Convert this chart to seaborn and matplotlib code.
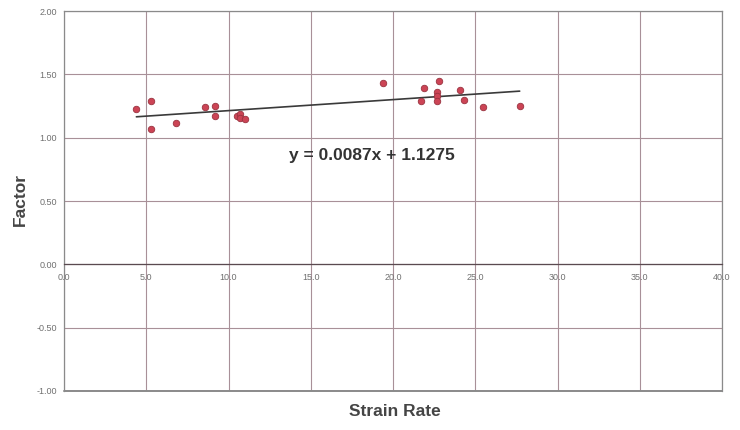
import matplotlib
matplotlib.use("Agg")
import matplotlib.pyplot as plt
import seaborn as sns
import numpy as np
import pandas as pd

sns.set_theme(style="white")
plt.rcParams['font.family'] = ['Liberation Sans', 'DejaVu Sans']

# data
strain_rate = [4.4, 5.3, 5.3, 6.8, 8.6, 9.2, 9.2, 10.5, 10.7, 10.7, 11.0,
               19.4, 21.9, 22.8, 22.7, 22.7, 21.7, 22.7, 24.1, 24.3, 25.5, 27.7]
factor = [1.23, 1.29, 1.07, 1.12, 1.24, 1.25, 1.17, 1.17, 1.19, 1.16, 1.15,
          1.43, 1.39, 1.45, 1.36, 1.33, 1.29, 1.29, 1.38, 1.30, 1.24, 1.25]
slope = 0.0087
intercept = 1.1275
x_ticks = [0, 5, 10, 15, 20, 25, 30, 35, 40]
y_ticks = [-1.0, -0.5, 0.0, 0.5, 1.0, 1.5, 2.0]

df = pd.DataFrame({'Strain Rate': strain_rate, 'Factor': factor})
x_fit = np.array([min(strain_rate), max(strain_rate)])
fit = pd.DataFrame({'x': x_fit, 'y': slope * x_fit + intercept})

fig = plt.figure(figsize=(7.4, 4.3), dpi=100)
ax = fig.add_axes([0.0865, 0.0907, 0.8892, 0.8833])

grid_c = '#a89098'
sns.lineplot(data=fit, x='x', y='y', ax=ax, color='#3a3a3a', lw=1.2, zorder=3)
sns.scatterplot(data=df, x='Strain Rate', y='Factor', ax=ax, color='#cc4455',
                edgecolor='#993340', linewidth=0.6, s=22, zorder=4)

ax.set_xlim(0, 40)
ax.set_ylim(-1, 2)
ax.set_xticks(x_ticks)
ax.set_yticks(y_ticks)
ax.set_xticklabels([f"{v:.1f}" for v in x_ticks])
ax.set_yticklabels([f"{v:.2f}" for v in y_ticks])
ax.grid(True, color=grid_c, lw=0.8)
ax.tick_params(axis='both', length=0, labelsize=6.5, labelcolor='#707070')
ax.tick_params(axis='x', pad=6)
ax.tick_params(axis='y', pad=5)

ax.spines['bottom'].set_position(('data', 0))
for side in ['left', 'right', 'top', 'bottom']:
    ax.spines[side].set_color('#8a8a8a')
    ax.spines[side].set_linewidth(0.9)
ax.spines['bottom'].set_color('#5a4a50')
ax.axhline(-1, color='#8a8a8a', lw=1.4, clip_on=False, zorder=1)

ax.set_xlabel('')
ax.set_ylabel('')
fig.text(0.534, 0.042, 'Strain Rate', ha='center', va='center',
         fontsize=12.5, fontweight='bold', color='#454545')
fig.text(0.028, 0.535, 'Factor', ha='center', va='center', rotation=90,
         fontsize=12.5, fontweight='bold', color='#454545')
ax.text(18.7, 0.86, f"y = {slope}x + {intercept}", ha='center', va='center',
        fontsize=12.5, fontweight='bold', color='#333333')

fig.savefig('out.png', dpi=100)
